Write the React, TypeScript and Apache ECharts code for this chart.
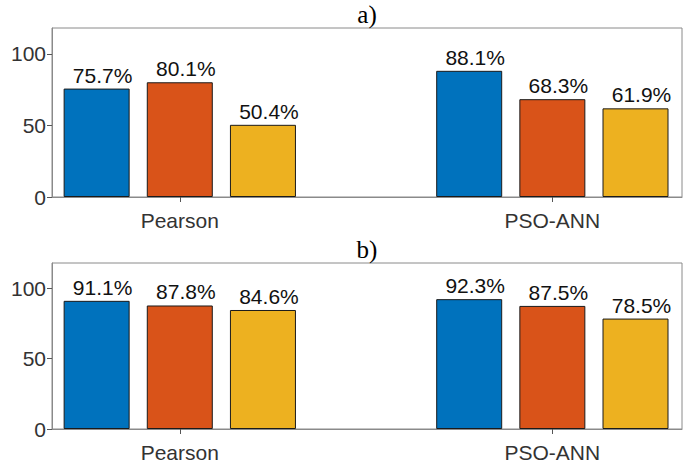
import React, { useEffect, useRef } from "react";
import * as echarts from "echarts";

const categories = ["Pearson", "PSO-ANN"];
const panelTitles = ["a)", "b)"];
const yTicks = [0, 50, 100];
const seriesColors = ["#0072BD", "#D95319", "#EDB120"];

// panel a
const a1 = [75.7, 88.1];
const a2 = [80.1, 68.3];
const a3 = [50.4, 61.9];
// panel b
const b1 = [91.1, 92.3];
const b2 = [87.8, 87.5];
const b3 = [84.6, 78.5];

const panels = [
  [a1, a2, a3],
  [b1, b2, b3],
];

const GRID_LEFT = 52;
const GRID_RIGHT = 3;
const GRID_H = 169;
const GRID_TOPS = [28, 263];
const X_MIN = 0.657;
const X_MAX = 2.348;
const Y_MAX = 118;

export default function App() {
  const ref = useRef<HTMLDivElement>(null);
  useEffect(() => {
    if (!ref.current) return;
    const chart = echarts.init(ref.current, null, { renderer: "svg" });
    const W = 685;
    const gridW = W - GRID_LEFT - GRID_RIGHT;
    const sans = "'Liberation Sans', Arial, sans-serif";
    const grids: any[] = [];
    const xAxes: any[] = [];
    const yAxes: any[] = [];
    const series: any[] = [];
    const graphics: any[] = [];
    panels.forEach((panel, p) => {
      grids.push({
        left: GRID_LEFT,
        right: GRID_RIGHT,
        top: GRID_TOPS[p],
        height: GRID_H,
        show: true,
        borderColor: "#8a8a8a",
        borderWidth: 1,
        backgroundColor: "transparent",
      });
      const catVals = categories.map((_, i) => i + 1);
      xAxes.push({
        type: "value",
        gridIndex: p,
        min: X_MIN,
        max: X_MAX,
        position: "bottom",
        splitLine: { show: false },
        axisLine: { show: true, onZero: false, lineStyle: { color: "#8a8a8a" } },
        axisTick: {
          show: true,
          inside: true,
          length: 5,
          customValues: catVals,
          lineStyle: { color: "#555" },
        },
        axisLabel: {
          show: true,
          customValues: catVals,
          formatter: (v: number) => categories[Math.round(v) - 1] ?? "",
          fontFamily: sans,
          fontSize: 21,
          color: "#333",
          margin: 13,
        },
      });
      xAxes.push({
        type: "value",
        gridIndex: p,
        min: X_MIN,
        max: X_MAX,
        position: "top",
        splitLine: { show: false },
        axisLine: { show: false },
        axisTick: {
          show: true,
          inside: true,
          length: 5,
          customValues: catVals,
          lineStyle: { color: "#555" },
        },
        axisLabel: { show: false },
      });
      yAxes.push({
        type: "value",
        gridIndex: p,
        min: 0,
        max: Y_MAX,
        interval: 50,
        splitLine: { show: false },
        axisLine: { show: true, lineStyle: { color: "#8a8a8a" } },
        axisTick: {
          show: true,
          inside: false,
          length: 5,
          customValues: yTicks,
          lineStyle: { color: "#555" },
        },
        axisLabel: {
          customValues: yTicks,
          fontFamily: sans,
          fontSize: 21,
          color: "#333",
          margin: 6,
        },
      });
      panel.forEach((vals, s) => {
        series.push({
          type: "bar",
          xAxisIndex: p * 2,
          yAxisIndex: p,
          barWidth: 66,
          barGap: "26%",
          data: vals.map((v, i) => [i + 1, v]),
          itemStyle: {
            color: seriesColors[s],
            borderColor: "#1a1a1a",
            borderWidth: 1,
          },
          label: {
            show: true,
            position: "top",
            distance: 3,
            offset: [6, 0],
            formatter: (prm: any) => Number(prm.value[1]).toFixed(1) + "%",
            fontFamily: sans,
            fontSize: 21,
            color: "#111",
          },
        });
      });
      graphics.push({
        type: "text",
        x: GRID_LEFT + gridW / 2,
        y: GRID_TOPS[p] - 1,
        style: {
          text: panelTitles[p],
          font: "25px 'Liberation Serif', 'Times New Roman', serif",
          fill: "#000",
          textAlign: "center",
          textVerticalAlign: "bottom",
        },
      });
    });
    chart.setOption({
      animation: false,
      backgroundColor: "#fff",
      grid: grids,
      xAxis: xAxes,
      yAxis: yAxes,
      series,
      graphic: graphics,
    });
    return () => chart.dispose();
  }, []);
  return (
    <div
      ref={ref}
      style={{ position: "absolute", left: 0, top: 0, width: 685, height: 463 }}
    />
  );
}
